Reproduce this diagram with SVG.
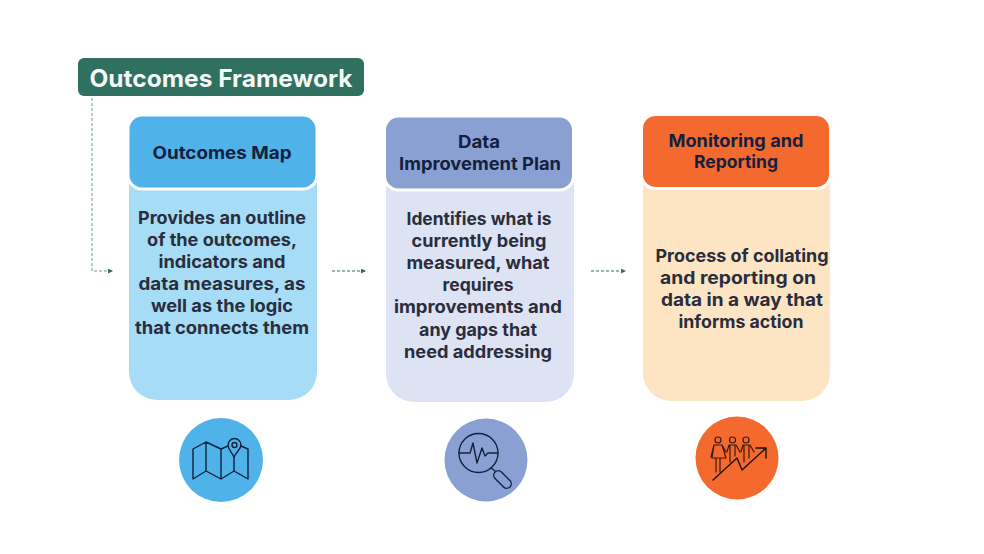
<svg xmlns="http://www.w3.org/2000/svg" width="984" height="554" viewBox="0 0 984 554">
<style>
text{font-family:"Inter","Lato","Noto Sans",sans-serif;font-weight:700;text-anchor:middle;font-size:17.500px;fill:#2a2d3c}
.h{fill:#14203f;font-size:17.500px}
.i{fill:none;stroke:#14203f;stroke-width:1.400;stroke-linejoin:round;stroke-linecap:round}
.d{fill:none;stroke:#2f6f5e;stroke-width:1;stroke-dasharray:3 2}
</style>
<defs><marker id="a" markerWidth="6" markerHeight="6" refX="5" refY="2.500" orient="auto" markerUnits="userSpaceOnUse"><path d="M0 0L5 2.500L0 5Z" fill="#2f6f5e"/></marker></defs>
<rect width="984" height="554" fill="#fff"/>
<g id="title"><rect x="78" y="58" width="286" height="38" rx="6" fill="#2f7060"/><text x="221" y="87" style="font-size:24px;fill:#f4f8f6" textLength="263" lengthAdjust="spacingAndGlyphs">Outcomes Framework</text></g>
<g id="connectors">
<path class="d" d="M92 98V271H113" marker-end="url(#a)" stroke-opacity=".7"/>
<path class="d" d="M332 271H366" marker-end="url(#a)"/>
<path class="d" d="M591 271H626" marker-end="url(#a)"/>
</g>
<g id="outcomes-map">
<rect x="129" y="150" width="188" height="250" rx="28" fill="#a6dcf5"/>
<rect x="128" y="115" width="189" height="74" rx="14" fill="#4fb2e8" stroke="#fff" stroke-width="3"/>
<text class="h" x="222" y="159" textLength="139" lengthAdjust="spacingAndGlyphs">Outcomes Map</text>
<text x="222" y="224" textLength="168" lengthAdjust="spacingAndGlyphs">Provides an outline</text>
<text x="222" y="246" textLength="150" lengthAdjust="spacingAndGlyphs">of the outcomes,</text>
<text x="222" y="268" textLength="127" lengthAdjust="spacingAndGlyphs">indicators and</text>
<text x="222" y="290" textLength="167" lengthAdjust="spacingAndGlyphs">data measures, as</text>
<text x="222" y="312" textLength="142" lengthAdjust="spacingAndGlyphs">well as the logic</text>
<text x="222" y="334" textLength="174" lengthAdjust="spacingAndGlyphs">that connects them</text>
<circle cx="221" cy="460" r="42" fill="#4fb2e8"/>
<path class="i" d="M193 449L206 442L221 449V479L206 471L193 479ZM206 442V471M221 449L228 446M221 479L234 471L248 479V449L241 446M234 457V471"/>
<path class="i" d="M234 457C231 451 228 449 228 445A6.500 6.500 0 1 1 241 445C241 449 237 451 234 457Z"/><circle class="i" cx="234.500" cy="445" r="2.500"/>
</g>
<g id="data-improvement-plan">
<rect x="386" y="150" width="188" height="252" rx="28" fill="#dde3f3"/>
<rect x="384.500" y="116" width="189" height="74" rx="14" fill="#8aa0d3" stroke="#fff" stroke-width="3"/>
<text class="h" x="479" y="148" textLength="42" lengthAdjust="spacingAndGlyphs">Data</text>
<text class="h" x="480" y="170" textLength="162" lengthAdjust="spacingAndGlyphs">Improvement Plan</text>
<text x="479" y="225" textLength="145" lengthAdjust="spacingAndGlyphs">Identifies what is</text>
<text x="479" y="247" textLength="135" lengthAdjust="spacingAndGlyphs">currently being</text>
<text x="478" y="269" textLength="143" lengthAdjust="spacingAndGlyphs">measured, what</text>
<text x="478" y="291" textLength="71" lengthAdjust="spacingAndGlyphs">requires</text>
<text x="478" y="313" textLength="168" lengthAdjust="spacingAndGlyphs">improvements and</text>
<text x="478" y="336" textLength="118" lengthAdjust="spacingAndGlyphs">any gaps that</text>
<text x="478" y="358" textLength="148" lengthAdjust="spacingAndGlyphs">need addressing</text>
<circle cx="486" cy="460" r="41.500" fill="#8aa0d3"/>
<circle class="i" cx="478.500" cy="453" r="19.500"/>
<path class="i" d="M459 453H470L473 443L477 463L482 448L485 456L488 453H498M491 468L495 471"/>
<rect class="i" x="492" y="475" width="21" height="9" rx="4.500" transform="rotate(45 502.500 479.500)"/>
</g>
<g id="monitoring-and-reporting">
<rect x="643" y="150" width="187" height="251" rx="28" fill="#fde5c4"/>
<rect x="641.500" y="114.500" width="189" height="74" rx="14" fill="#f46a2e" stroke="#fff" stroke-width="3"/>
<text class="h" x="736" y="147" textLength="135" lengthAdjust="spacingAndGlyphs">Monitoring and</text>
<text class="h" x="736" y="168" textLength="84" lengthAdjust="spacingAndGlyphs">Reporting</text>
<text x="742" y="262" textLength="173" lengthAdjust="spacingAndGlyphs">Process of collating</text>
<text x="738" y="284" textLength="156" lengthAdjust="spacingAndGlyphs">and reporting on</text>
<text x="742" y="306" textLength="162" lengthAdjust="spacingAndGlyphs">data in a way that</text>
<text x="741" y="328" textLength="125" lengthAdjust="spacingAndGlyphs">informs action</text>
<circle cx="737" cy="458" r="41.500" fill="#f46a2e"/>
<g class="i" style="stroke:#3a1a10;stroke-width:1.200">
<circle cx="718" cy="440" r="3"/><circle cx="732.500" cy="440" r="3"/><circle cx="746" cy="440" r="3"/>
<path d="M714 445H722L726 458H712ZM716 458V472M720 458V472M711 457L714 445M722 445L726 452"/>
<path d="M727 452L729 445H736L740 452M730 445V462M735 445V456"/>
<path d="M741 452L743 445H750L754 452M744 445V462M749 445V458"/>
<path d="M713 480L737 458L742 470L765 449M756 448H766V458" style="stroke:#1a1010;stroke-width:1.400"/>
</g>
</g>
</svg>
